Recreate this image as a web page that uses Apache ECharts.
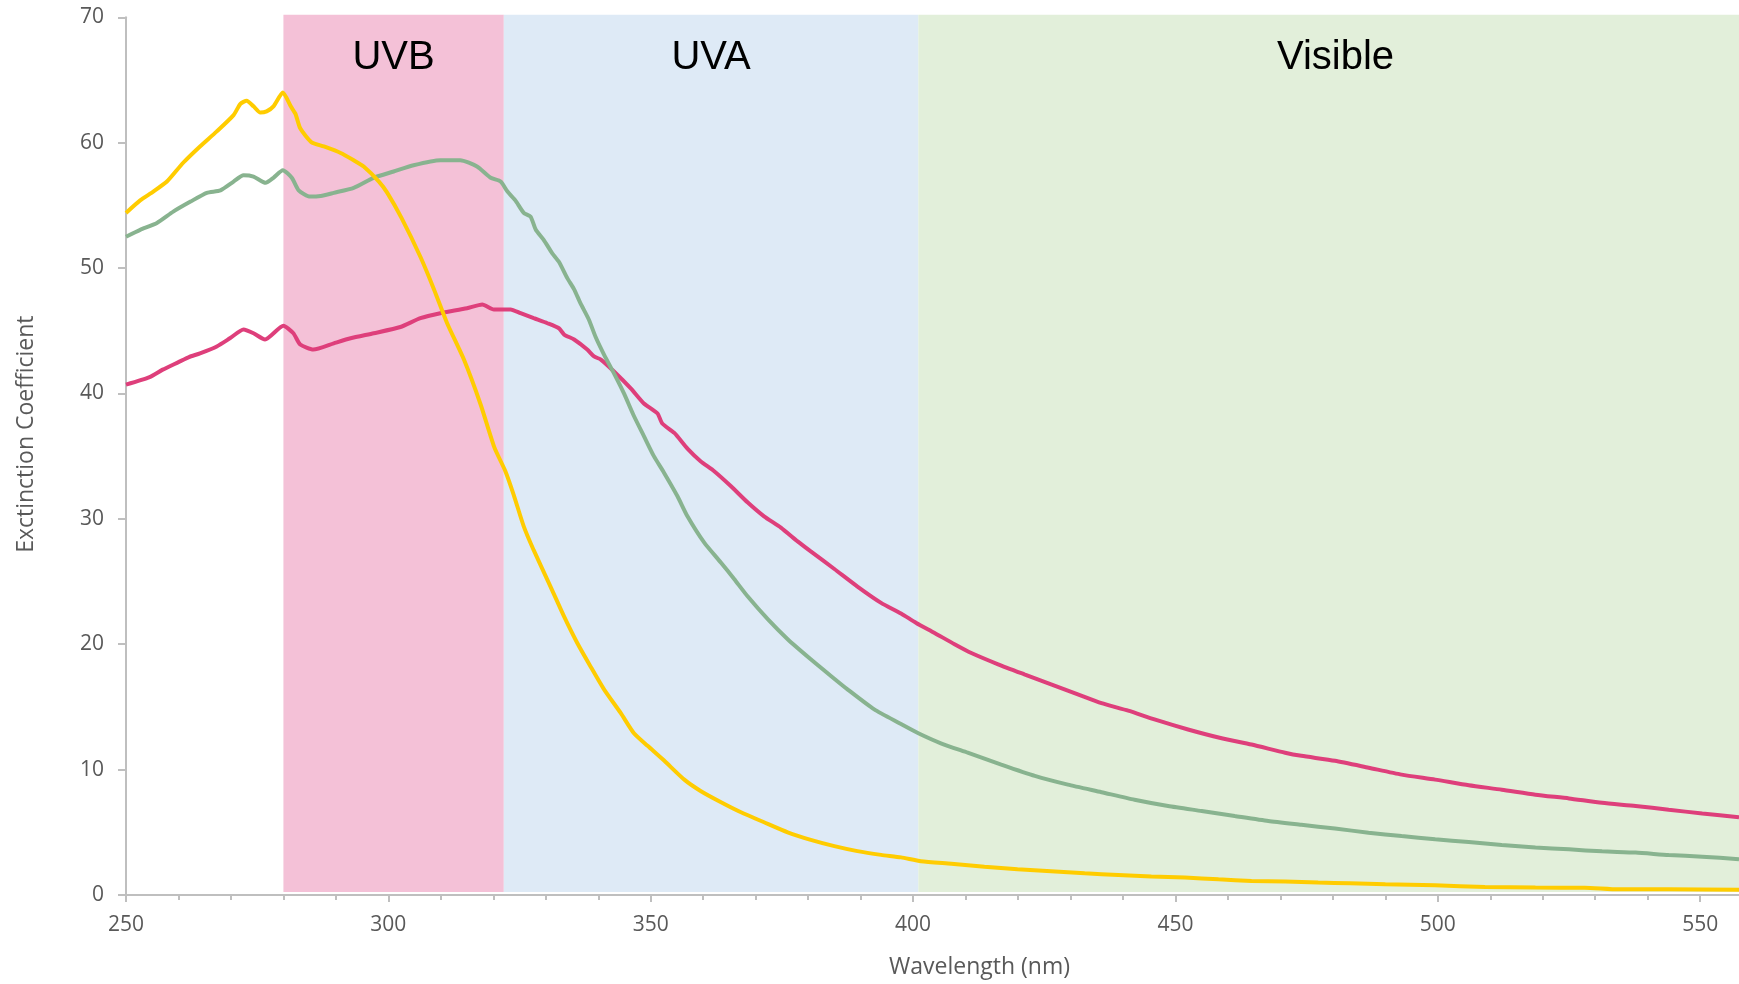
<!DOCTYPE html>
<html>
<head>
<meta charset="utf-8">
<title>Extinction Coefficient</title>
<script src="https://cdn.jsdelivr.net/npm/echarts@6/dist/echarts.min.js"></script>
<style>
  html, body { margin: 0; padding: 0; background: #ffffff; }
  #chart { width: 1739px; height: 984px; }
</style>
</head>
<body>
<div id="chart"></div>
<script>
// Spectral bands (nm); the visible band runs on past the right edge of the plot
const bandNames = ['UVB', 'UVA', 'Visible'];
const bandStart = [280, 322, 401];
const bandEnd = [322, 401, 560];

// Axis ticks
const xMajorTicks = [250, 300, 350, 400, 450, 500, 550];
const xMinorTicks = [260, 270, 280, 290, 310, 320, 330, 340, 360, 370, 380, 390,
  410, 420, 430, 440, 460, 470, 480, 490, 510, 520, 530, 540];
const yTicks = [0, 10, 20, 30, 40, 50, 60, 70];

// Yellow sample
const yellowNm = [250.0, 252.7, 255.2, 257.8, 260.9, 264.1, 267.3, 270.5, 271.8, 273.0,
  274.3, 275.6, 276.8, 278.1, 279.9, 281.4, 282.3, 283.2, 285.3, 287.7,
  290.8, 293.4, 295.3, 298.2, 299.8, 302.5, 306.1, 308.7, 311.2, 314.4,
  317.6, 320.2, 322.3, 323.9, 325.8, 327.7, 330.9, 333.5, 336.0, 338.5,
  341.1, 344.3, 346.8, 349.4, 352.6, 356.4, 359.5, 363.4, 367.2, 371.6,
  376.1, 380.5, 385.0, 389.4, 393.9, 397.7, 401.5, 407.3, 413.6, 419.9,
  426.3, 432.7, 439.1, 445.4, 451.8, 458.2, 464.5, 470.9, 477.2, 483.3,
  490.0, 499.5, 509.0, 518.6, 528.0, 534.5, 544.0, 557.4];
const yellowVal = [54.4, 55.4, 56.1, 56.9, 58.4, 59.7, 60.9, 62.2, 63.1, 63.35,
  62.9, 62.4, 62.5, 62.9, 64.0, 62.9, 62.3, 61.15, 60.05, 59.7,
  59.2, 58.6, 58.1, 56.9, 56.0, 54.0, 50.9, 48.3, 45.6, 42.7,
  39.1, 35.7, 33.8, 31.9, 29.4, 27.5, 24.6, 22.2, 20.1, 18.25,
  16.4, 14.5, 12.9, 11.9, 10.7, 9.2, 8.3, 7.4, 6.6, 5.8,
  5.0, 4.4, 3.9, 3.5, 3.2, 3.0, 2.7, 2.5, 2.26, 2.05,
  1.9, 1.73, 1.6, 1.47, 1.39, 1.25, 1.12, 1.07, 0.99, 0.93,
  0.85, 0.77, 0.64, 0.59, 0.58, 0.45, 0.45, 0.42];

// Green sample
const greenNm = [250.0, 252.7, 255.9, 259.0, 262.3, 265.4, 268.0, 270.5, 272.4, 274.3,
  276.6, 278.1, 279.9, 281.6, 282.9, 285.1, 287.1, 289.6, 293.4, 297.2,
  301.0, 304.8, 309.9, 313.7, 316.9, 319.5, 321.4, 322.7, 324.2, 325.8,
  327.1, 328.1, 329.6, 331.2, 332.5, 334.1, 335.4, 336.6, 338.2, 339.5,
  341.1, 343.0, 344.9, 346.8, 348.7, 350.6, 352.5, 355.1, 357.0, 360.2,
  363.4, 365.9, 368.5, 372.3, 376.1, 380.5, 384.4, 387.5, 392.6, 397.4,
  401.0, 405.3, 410.4, 416.8, 423.2, 429.5, 435.9, 442.2, 448.6, 455.0,
  461.3, 467.7, 474.0, 480.4, 486.8, 493.1, 499.5, 505.9, 512.2, 518.6,
  525.0, 531.3, 537.7, 544.0, 550.4, 557.4];
const greenVal = [52.5, 53.05, 53.6, 54.5, 55.3, 56.0, 56.2, 56.9, 57.4, 57.3,
  56.8, 57.2, 57.8, 57.2, 56.2, 55.7, 55.75, 56.0, 56.4, 57.2,
  57.7, 58.2, 58.6, 58.6, 58.1, 57.2, 56.9, 56.1, 55.4, 54.4,
  54.1, 53.05, 52.25, 51.2, 50.5, 49.2, 48.3, 47.2, 45.9, 44.5,
  43.1, 41.6, 40.0, 38.2, 36.6, 35.0, 33.7, 31.8, 30.2, 28.1,
  26.5, 25.2, 23.8, 22.0, 20.4, 18.8, 17.45, 16.4, 14.8, 13.7,
  12.9, 12.1, 11.35, 10.4, 9.5, 8.8, 8.2, 7.6, 7.1, 6.7,
  6.3, 5.9, 5.6, 5.3, 4.97, 4.7, 4.44, 4.23, 3.99, 3.78,
  3.64, 3.48, 3.38, 3.19, 3.06, 2.85];

// Magenta sample
const magentaNm = [250.0, 254.5, 257.0, 260.0, 262.0, 264.1, 267.3, 269.8, 272.4, 274.3,
  276.5, 280.0, 281.9, 283.2, 285.7, 289.6, 292.8, 297.2, 302.3, 306.1,
  309.9, 315.0, 317.9, 320.1, 323.3, 325.2, 327.7, 330.3, 332.5, 333.5,
  335.4, 337.9, 339.2, 340.5, 343.0, 346.2, 348.7, 351.3, 352.2, 354.5,
  357.0, 359.5, 362.1, 365.3, 368.5, 371.6, 374.8, 378.0, 380.5, 385.0,
  389.4, 393.9, 397.7, 400.6, 404.1, 407.9, 411.1, 416.2, 421.2, 426.3,
  431.4, 435.9, 441.0, 446.0, 452.4, 458.8, 464.5, 470.9, 474.0, 480.4,
  486.8, 493.1, 499.5, 505.9, 512.2, 518.6, 525.0, 531.3, 537.7, 544.0,
  550.4, 557.4];
const magentaVal = [40.7, 41.3, 41.9, 42.5, 42.9, 43.2, 43.75, 44.4, 45.1, 44.8,
  44.3, 45.4, 44.8, 43.9, 43.5, 44.0, 44.4, 44.8, 45.3, 46.0,
  46.4, 46.8, 47.1, 46.7, 46.7, 46.4, 46.0, 45.6, 45.2, 44.7,
  44.3, 43.5, 42.95, 42.7, 41.75, 40.4, 39.2, 38.4, 37.6, 36.85,
  35.6, 34.6, 33.8, 32.6, 31.3, 30.2, 29.3, 28.2, 27.4, 26.0,
  24.6, 23.3, 22.45, 21.7, 20.9, 20.0, 19.3, 18.4, 17.6, 16.8,
  16.0, 15.3, 14.7, 14.0, 13.2, 12.5, 12.0, 11.35, 11.1, 10.7,
  10.15, 9.6, 9.2, 8.75, 8.4, 8.0, 7.7, 7.35, 7.1, 6.8,
  6.5, 6.2];

const pairs = (xs, ys) => xs.map((x, i) => [x, ys[i]]);

const bandColors = ['#F4C1D7', '#DEEAF6', '#E2EFDA'];
const bandData = bandNames.map((n, i) => [bandStart[i], bandEnd[i], n]);
const BAND_LOW = 0.24, BAND_HIGH = 70.2;

const tickFont = { fontFamily: 'Open Sans', fontSize: 21, color: '#595959' };
const axisGray = '#BFBFBF';

const chart = echarts.init(document.getElementById('chart'), null, { renderer: 'canvas' });

chart.setOption({
  animation: false,
  backgroundColor: '#ffffff',
  grid: { left: 126, right: 0, top: 17.3, bottom: 88.3, containLabel: false },
  xAxis: [{
    type: 'value',
    min: 250, max: 557.4,
    name: 'Wavelength (nm)',
    nameLocation: 'middle',
    nameGap: 61,
    nameTextStyle: { fontFamily: 'Open Sans', fontSize: 23, color: '#595959', padding: [0, 0, 0, 94] },
    axisLine: { show: true, lineStyle: { color: axisGray, width: 2 } },
    axisTick: { show: true, inside: false, length: 7, customValues: xMajorTicks, lineStyle: { color: axisGray, width: 2 } },
    axisLabel: { customValues: xMajorTicks, margin: 20, ...tickFont },
    splitLine: { show: false }
  }, {
    type: 'value',
    min: 250, max: 557.4,
    position: 'bottom',
    axisLine: { show: false },
    axisTick: { show: true, inside: false, length: 5, customValues: xMinorTicks, lineStyle: { color: axisGray, width: 2 } },
    axisLabel: { show: false },
    splitLine: { show: false }
  }],
  yAxis: {
    type: 'value',
    min: 0, max: 70, interval: 10,
    name: 'Exctinction Coefficient',
    nameLocation: 'middle',
    nameGap: 88,
    nameTextStyle: { fontFamily: 'Open Sans', fontSize: 23, color: '#595959', padding: [0, 0, 0, 44] },
    axisLine: { show: true, lineStyle: { color: axisGray, width: 2 } },
    axisTick: { show: true, inside: false, length: 8, customValues: yTicks, lineStyle: { color: axisGray, width: 2 } },
    axisLabel: { customValues: yTicks, margin: 22, ...tickFont },
    splitLine: { show: false }
  },
  series: [{
    type: 'custom',
    z: 1,
    silent: true,
    clip: false,
    data: bandData,
    encode: { x: [0, 1] },
    renderItem: function (params, api) {
      const i = params.dataIndex;
      const p0 = api.coord([api.value(0), BAND_HIGH]);
      const p1 = api.coord([api.value(1), BAND_LOW]);
      return {
        type: 'group',
        children: [{
          type: 'rect',
          shape: { x: p0[0], y: p0[1], width: p1[0] - p0[0], height: p1[1] - p0[1] },
          style: { fill: bandColors[i] }
        }, {
          type: 'text',
          x: (p0[0] + p1[0]) / 2,
          y: p0[1] + 43,
          style: {
            text: bandNames[i],
            fontFamily: 'Liberation Sans',
            fontSize: 40,
            fill: '#000000',
            align: 'center',
            verticalAlign: 'middle'
          }
        }]
      };
    }
  }, {
    name: 'Magenta',
    type: 'line',
    z: 3,
    data: pairs(magentaNm, magentaVal),
    showSymbol: false,
    smooth: 0.2,
    lineStyle: { color: '#DE3F7B', width: 4 }
  }, {
    name: 'Green',
    type: 'line',
    z: 4,
    data: pairs(greenNm, greenVal),
    showSymbol: false,
    smooth: 0.2,
    lineStyle: { color: '#88B38F', width: 4 }
  }, {
    name: 'Yellow',
    type: 'line',
    z: 5,
    data: pairs(yellowNm, yellowVal),
    showSymbol: false,
    smooth: 0.2,
    lineStyle: { color: '#FFCC00', width: 4 }
  }]
});
</script>
</body>
</html>
